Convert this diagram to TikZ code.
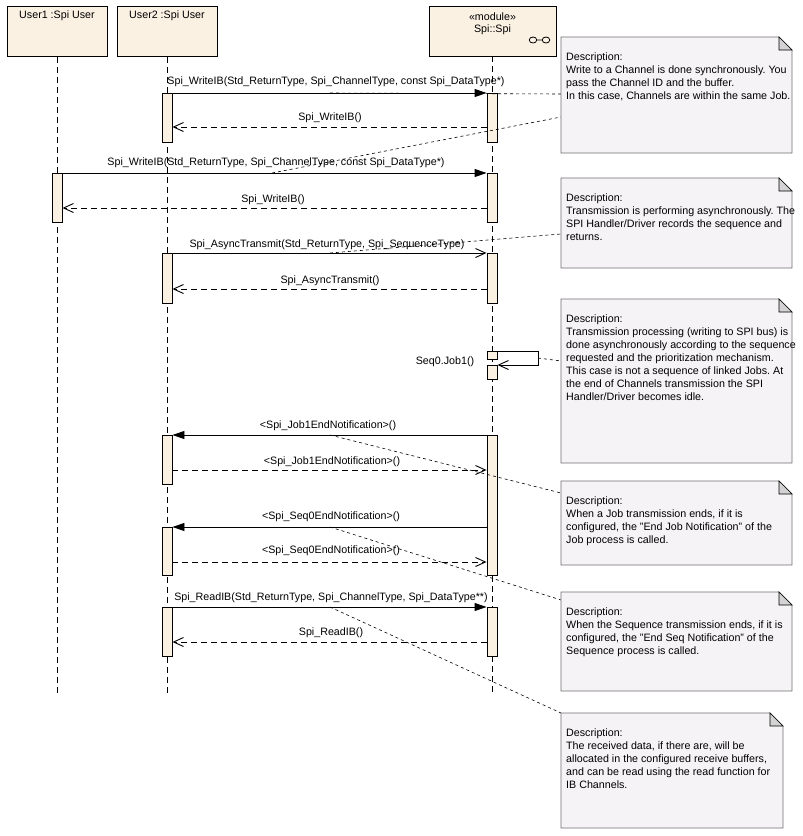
\documentclass[tikz,border=0pt]{standalone}
\usepackage{fontspec}
\setmainfont{Liberation Sans}
\usetikzlibrary{arrows.meta}
\definecolor{headfill}{HTML}{FBF1E3}
\definecolor{notefill}{HTML}{F6F3F6}
\definecolor{noteline}{HTML}{6E6E6E}
\definecolor{earfill}{HTML}{D3D3D3}
\frenchspacing
\newcommand\drawnote[6]{%
  \path[draw=noteline, fill=notefill, line width=0.9pt] (#2,#3) -- (#4-13,#3) -- (#4,#3+13) -- (#4,#5) -- (#2,#5) -- cycle;
  \path[draw=black, fill=earfill, line width=0.7pt] (#4-13,#3) -- (#4-13,#3+13) -- (#4,#3+13) -- cycle;
  \node[notetext] (#1) at (#2+5,#3+16) {#6};
}
\begin{document}
\begin{tikzpicture}[x=1pt,y=-1pt,
  txt/.style={font=\fontsize{10.7}{13}\selectfont, inner sep=0pt},
  notetext/.style={txt, align=left, anchor=north west},
  headbox/.style={draw=black, fill=headfill, line width=0.9pt, minimum height=50pt, inner sep=0pt, anchor=north},
  actbar/.style={draw=black, fill=headfill, line width=0.9pt, minimum width=10pt, inner sep=0pt, anchor=north},
  lifeline/.style={line width=0.9pt, dash pattern=on 6pt off 4pt},
  callmsg/.style={line width=0.9pt, -{Triangle[length=12pt,width=8pt]}},
  asyncmsg/.style={line width=0.9pt, -{Straight Barb[length=10pt,width=9pt,line width=0.9pt]}},
  retmsg/.style={line width=0.9pt, dash pattern=on 6pt off 4pt, -{Straight Barb[length=10pt,width=9pt,line width=0.9pt]}},
  notelink/.style={line width=0.6pt, draw=black, dash pattern=on 3pt off 3pt},
]
\useasboundingbox (0,0) rectangle (803,836);

% heads
\node[headbox, minimum width=100pt] (u1) at (57,6) {};
\node[headbox, minimum width=100pt] (u2) at (167,6) {};
\node[headbox, minimum width=127pt] (sp) at (492.5,6) {};
\node[txt] (u1t) at (57,16) {User1 :Spi User};
\node[txt] (u2t) at (167,16) {User2 :Spi User};
\node[txt] (spt1) at (492.5,17) {«module»};
\node[txt] (spt2) at (492.5,30) {Spi::Spi};
\draw[line width=0.8pt] (533,40) ellipse (3.8 and 3) (546,40) ellipse (3.8 and 3) (536.8,40) -- (542.2,40);

% lifelines
\coordinate (u1end) at (57,693);
\coordinate (u2end) at (167,693);
\coordinate (spend) at (492,693);
\draw[lifeline] (u1.south) -- (u1end);
\draw[lifeline] (u2.south) -- (u2end);
\draw[lifeline] (492,56) -- (spend);

% activations
\node[actbar, minimum height=49pt] (s1) at (492,93) {};
\node[actbar, minimum height=49pt] (b1) at (167,93) {};
\node[actbar, minimum height=49pt] (s2) at (492,173) {};
\node[actbar, minimum height=49pt] (c2) at (57,173) {};
\node[actbar, minimum height=50pt] (s3) at (492,253) {};
\node[actbar, minimum height=50pt] (b3) at (167,253) {};
\node[actbar, minimum height=8pt] (s4a) at (492,351) {};
\node[actbar, minimum height=14pt] (s4b) at (492,365) {};
\node[actbar, minimum height=140pt] (s5) at (492,435) {};
\node[actbar, minimum height=49pt] (b4) at (167,435) {};
\node[actbar, minimum height=48pt] (b5) at (167,527) {};
\node[actbar, minimum height=49pt] (s6) at (492,607) {};
\node[actbar, minimum height=49pt] (b6) at (167,607) {};

% messages
\draw[callmsg] (b1.north east) -- (s1.north west);
\node[txt] (m1) at (336,82) {Spi\_WriteIB(Std\_ReturnType, Spi\_ChannelType, const Spi\_DataType*)};
\draw[retmsg] (s1.west |- 0,127) -- (b1.east |- 0,127);
\node[txt] (r1) at (330,118) {Spi\_WriteIB()};

\draw[callmsg] (c2.north east) -- (s2.north west);
\node[txt] (m2) at (276,163) {Spi\_WriteIB(Std\_ReturnType, Spi\_ChannelType, const Spi\_DataType*)};
\draw[retmsg] (s2.west |- 0,208) -- (c2.east |- 0,208);
\node[txt] (r2) at (273,200) {Spi\_WriteIB()};

\draw[asyncmsg] (b3.north east) -- (s3.north west);
\node[txt] (m3) at (327,245) {Spi\_AsyncTransmit(Std\_ReturnType, Spi\_SequenceType)};
\draw[retmsg] (s3.west |- 0,289) -- (b3.east |- 0,289);
\node[txt] (r3) at (330,281) {Spi\_AsyncTransmit()};

\coordinate (selfa) at (538,351);
\coordinate (selfb) at (538,365);
\draw[asyncmsg] (s4a.north east) -- (selfa) -- (selfb) -- (s4b.north east);
\node[txt] (m4) at (445,362) {Seq0.Job1()};

\draw[callmsg] (s5.north west) -- (b4.north east);
\node[txt] (m5) at (328,426) {<Spi\_Job1EndNotification>()};
\draw[retmsg] (b4.east |- 0,470) -- (s5.west |- 0,470);
\node[txt] (r5) at (332,462) {<Spi\_Job1EndNotification>()};

\draw[callmsg] (s5.west |- 0,527) -- (b5.north east);
\node[txt] (m6) at (331,517) {<Spi\_Seq0EndNotification>()};
\draw[retmsg] (b5.east |- 0,562) -- (s5.west |- 0,562);
\node[txt] (r6) at (331,551) {<Spi\_Seq0EndNotification>()};

\draw[callmsg] (b6.north east) -- (s6.north west);
\node[txt] (m7) at (331,598) {Spi\_ReadIB(Std\_ReturnType, Spi\_ChannelType, Spi\_DataType**)};
\draw[retmsg] (s6.west |- 0,642) -- (b6.east |- 0,642);
\node[txt] (r7) at (331,633) {Spi\_ReadIB()};

% note links
\draw[notelink] (330,93) -- (561,94);
\draw[notelink] (272,173) -- (561,117);
\draw[notelink] (330,253) -- (561,234);
\draw[notelink] (selfa |- 0,358) -- (561,361);
\draw[notelink] (330,435) -- (561,493);
\draw[notelink] (330,527) -- (561,600);
\draw[notelink] (330,607) -- (561,713);

% notes
\drawnote{n1}{561}{37}{792}{153}{Description:\\Write to a Channel is done synchronously. You\\pass the Channel ID and the buffer.\\In this case, Channels are within the same Job.}
\drawnote{n2}{561}{178}{792}{268}{Description:\\Transmission is performing asynchronously. The\\SPI Handler/Driver records the sequence and\\returns.}
\drawnote{n3}{561}{299}{792}{463}{Description:\\Transmission processing (writing to SPI bus) is\\done asynchronously according to the sequence\\requested and the prioritization mechanism.\\This case is not a sequence of linked Jobs. At\\the end of Channels transmission the SPI\\Handler/Driver becomes idle.}
\drawnote{n4}{561}{481}{792}{565}{Description:\\When a Job transmission ends, if it is\\configured, the "End Job Notification" of the\\Job process is called.}
\drawnote{n5}{561}{592}{792}{691}{Description:\\When the Sequence transmission ends, if it is\\configured, the "End Seq Notification" of the\\Sequence process is called.}
\drawnote{n6}{561}{713}{783}{828}{Description:\\The received data, if there are, will be\\allocated in the configured receive buffers,\\and can be read using the read function for\\IB Channels.}
\end{tikzpicture}
\end{document}
